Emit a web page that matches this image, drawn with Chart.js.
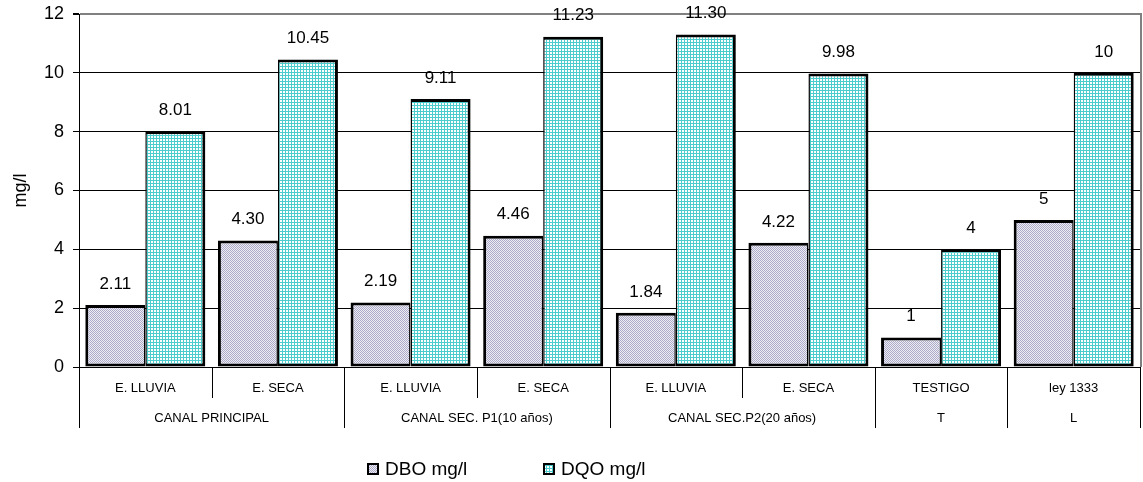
<!DOCTYPE html>
<html>
<head>
<meta charset="utf-8">
<title>DBO y DQO</title>
<script src="https://cdn.jsdelivr.net/npm/chart.js@4/dist/chart.umd.min.js"></script>
<style>
  html, body { margin: 0; padding: 0; background: #ffffff; }
  canvas { display: block; }
</style>
</head>
<body>
<canvas id="c" width="1143" height="482"></canvas>
<script>
// Sampling points (first row of the category axis)
const categories = ['E. LLUVIA', 'E. SECA', 'E. LLUVIA', 'E. SECA', 'E. LLUVIA', 'E. SECA', 'TESTIGO', 'ley 1333'];
// Site groups (second row of the category axis) and how many points each covers
const groupLabels = ['CANAL PRINCIPAL', 'CANAL SEC. P1(10 años)', 'CANAL SEC.P2(20 años)', 'T', 'L'];
const groupSizes = [2, 2, 2, 1, 1];
// Measured values, mg/l
const dbo = [2.11, 4.30, 2.19, 4.46, 1.84, 4.22, 1, 5];
const dqo = [8.01, 10.45, 9.11, 11.23, 11.30, 9.98, 4, 10];
// Decimal places shown in each value label
const decimals = [2, 2, 2, 2, 2, 2, 0, 0];
// Value axis
const yMin = 0, yMax = 12, yStep = 2;
const seriesNames = ['DBO mg/l', 'DQO mg/l'];

const FONT = '"Liberation Sans", Arial, sans-serif';

function makePattern(size, draw) {
  const c = document.createElement('canvas');
  c.width = size; c.height = size;
  const g = c.getContext('2d');
  draw(g);
  return c.getContext('2d').createPattern(c, 'repeat');
}
// fine lavender-grey check
const dboFill = makePattern(2, g => {
  g.fillStyle = '#ededf3'; g.fillRect(0, 0, 2, 2);
  g.fillStyle = '#ababc9'; g.fillRect(0, 0, 1, 1); g.fillRect(1, 1, 1, 1);
});
// fine cyan grid
const dqoFill = makePattern(3, g => {
  g.fillStyle = '#ffffff'; g.fillRect(0, 0, 3, 3);
  g.fillStyle = '#4ccccc'; g.fillRect(0, 0, 3, 1); g.fillRect(0, 0, 1, 3);
});

// Two-row category axis, value labels, frame and legend
const decorations = {
  id: 'decorations',
  afterDatasetsDraw(chart) {
    const ctx = chart.ctx;
    ctx.save();
    ctx.fillStyle = '#000';
    ctx.font = '17px ' + FONT;
    ctx.textAlign = 'center';
    ctx.textBaseline = 'middle';
    chart.data.datasets.forEach((ds, di) => {
      const meta = chart.getDatasetMeta(di);
      meta.data.forEach((bar, i) => {
        ctx.fillText(ds.data[i].toFixed(decimals[i]), bar.x, bar.y - 21);
      });
    });
    ctx.restore();
  },
  afterDraw(chart) {
    const ctx = chart.ctx;
    const x = chart.scales.x;
    const area = chart.chartArea;
    const half = (x.getPixelForValue(1) - x.getPixelForValue(0)) / 2;
    ctx.save();

    // right frame edge
    ctx.strokeStyle = '#808080';
    ctx.lineWidth = 2;
    ctx.beginPath();
    ctx.moveTo(area.right + 1, area.top - 1);
    ctx.lineTo(area.right + 1, area.bottom);
    ctx.stroke();

    // first row labels
    ctx.fillStyle = '#000';
    ctx.font = '13px ' + FONT;
    ctx.textAlign = 'center';
    ctx.textBaseline = 'middle';
    categories.forEach((c, i) => {
      ctx.fillText(c, x.getPixelForValue(i), area.bottom + 21);
    });

    // dividers: short between points, long at group boundaries
    const bounds = [0];
    groupSizes.forEach(s => bounds.push(bounds[bounds.length - 1] + s));
    ctx.strokeStyle = '#000';
    ctx.lineWidth = 1;
    for (let i = 0; i <= categories.length; i++) {
      const px = Math.round(x.getPixelForValue(i) - half) + 0.5;
      const long = bounds.includes(i);
      ctx.beginPath();
      ctx.moveTo(px, area.bottom);
      ctx.lineTo(px, area.bottom + (long ? 61 : 31));
      ctx.stroke();
    }
    groupLabels.forEach((g, k) => {
      const a = x.getPixelForValue(bounds[k]) - half;
      const b = x.getPixelForValue(bounds[k + 1] - 1) + half;
      ctx.fillText(g, (a + b) / 2, area.bottom + 51);
    });

    // legend
    ctx.font = '19px ' + FONT;
    ctx.textAlign = 'left';
    const fills = [dboFill, dqoFill];
    const lx = [367, 543];
    seriesNames.forEach((n, i) => {
      ctx.fillStyle = fills[i];
      ctx.fillRect(lx[i], 463, 12, 12);
      ctx.strokeStyle = '#000';
      ctx.lineWidth = 2;
      ctx.strokeRect(lx[i] + 1, 464, 10, 10);
      ctx.fillStyle = '#000';
      ctx.fillText(n, lx[i] + 18, 470);
    });
    ctx.restore();
  }
};

new Chart(document.getElementById('c'), {
  type: 'bar',
  data: {
    labels: categories,
    datasets: [
      {
        label: seriesNames[0],
        data: dbo,
        backgroundColor: dboFill,
        borderColor: '#000',
        borderWidth: { top: 3, left: 3, right: 1.5, bottom: 3 },
        borderSkipped: false
      },
      {
        label: seriesNames[1],
        data: dqo,
        backgroundColor: dqoFill,
        borderColor: '#000',
        borderWidth: { top: 3, left: 1.5, right: 3, bottom: 3 },
        borderSkipped: false
      }
    ]
  },
  options: {
    responsive: false,
    devicePixelRatio: 1,
    animation: false,
    categoryPercentage: 0.905,
    barPercentage: 1,
    layout: { padding: { left: 0, right: 3, top: 14, bottom: 0 } },
    plugins: {
      legend: { display: false },
      tooltip: { enabled: false }
    },
    scales: {
      x: {
        ticks: { display: false },
        grid: { display: false },
        border: { display: true, color: '#000', width: 1 },
        afterFit(scale) { scale.height = 115; }
      },
      y: {
        min: yMin,
        max: yMax,
        ticks: {
          stepSize: yStep,
          padding: 9,
          color: '#000',
          font: { family: FONT, size: 18 }
        },
        grid: {
          color: c => (c.tick && c.tick.value === yMax ? '#808080' : '#000'),
          lineWidth: c => (c.tick && c.tick.value === yMax ? 2 : 1),
          drawTicks: true,
          tickLength: 6,
          tickColor: '#000'
        },
        border: { display: true, color: '#000', width: 1 },
        title: {
          display: true,
          text: 'mg/l',
          color: '#000',
          font: { family: FONT, size: 18 },
          padding: { top: 10, bottom: 0 }
        },
        afterFit(scale) {
          scale.width = 79;
          scale.paddingTop = 0;
          scale.paddingBottom = 0;
        }
      }
    }
  },
  plugins: [decorations]
});
</script>
</body>
</html>
